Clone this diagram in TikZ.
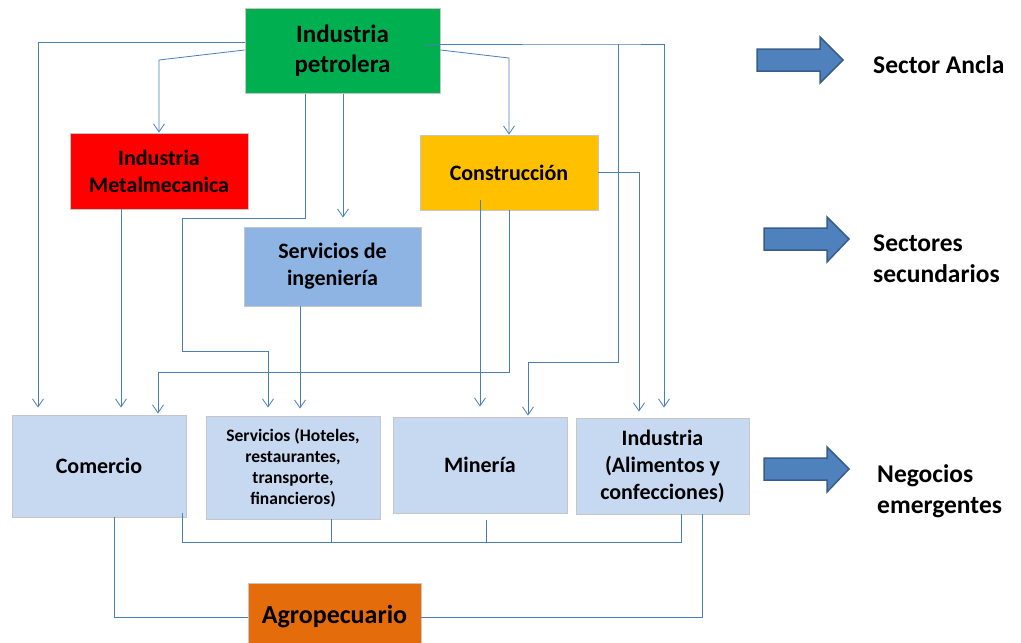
\documentclass[tikz,border=0pt]{standalone}
\usepackage{fontspec}
\setmainfont{Carlito}
\usetikzlibrary{arrows.meta,calc}
\definecolor{petrogreen}{HTML}{00B050}
\definecolor{metalred}{HTML}{FF0000}
\definecolor{construyellow}{HTML}{FFC000}
\definecolor{ingenblue}{HTML}{8EB4E3}
\definecolor{paleblue}{HTML}{C6D9F1}
\definecolor{agroorange}{HTML}{E46C0A}
\definecolor{linkblue}{HTML}{4A7EBB}
\definecolor{arrowfill}{HTML}{4F81BD}
\definecolor{arrowedge}{HTML}{385D8A}

\begin{document}
\begin{tikzpicture}[x=1pt,y=-1pt,
    sector/.style={draw=gray!45,line width=0.9pt,inner sep=0pt,align=center,font=\bfseries\fontsize{22}{27}\selectfont},
    link/.style={linkblue,line width=0.8pt},
    arr/.style={link,-{Straight Barb[length=8pt,width=11pt]}},
    bigarrow/.style={fill=arrowfill,draw=arrowedge,line width=1.5pt},
    legend/.style={inner sep=0pt,anchor=west,align=left,font=\bfseries\fontsize{25.5}{31}\selectfont}]
                \useasboundingbox (0,0) rectangle (1021,643);
                \node[sector,fill=petrogreen,minimum width=195pt,minimum height=85pt,font=\bfseries\fontsize{25}{30}\selectfont] (petro) at (342.5,51) {Industria\\petrolera};
                \node[sector,fill=metalred,minimum width=178pt,minimum height=76pt] (metal) at (159,171) {Industria\\Metalmecanica};
                \node[sector,fill=construyellow,minimum width=178pt,minimum height=75pt] (constr) at (509,172.5) {Construcción};
                \node[sector,fill=ingenblue,minimum width=177pt,minimum height=79pt] (ingen) at (332.5,266.5) {Servicios de\\ingeniería};
                \node[sector,fill=paleblue,minimum width=174pt,minimum height=102pt] (comer) at (99,466) {Comercio};
                \node[sector,fill=paleblue,minimum width=174pt,minimum height=103pt,font=\bfseries\fontsize{17.5}{21}\selectfont] (servi) at (293,467.5) {Servicios (Hoteles,\\restaurantes,\\transporte,\\financieros)};
                \node[sector,fill=paleblue,minimum width=174pt,minimum height=96pt] (miner) at (480,465) {Minería};
                \node[sector,fill=paleblue,minimum width=173pt,minimum height=96pt] (indus) at (662.5,466) {Industria\\(Alimentos y\\confecciones)};
                \node[sector,fill=agroorange,minimum width=173pt,minimum height=68pt,font=\bfseries\fontsize{26}{31}\selectfont] (agro) at (334.5,617) {Agropecuario};

                \draw[arr,shorten >=7pt] (petro.west |- 0,42) -| ([xshift=-61pt]comer.north);
                \draw[arr] (petro.west |- 0,50) -- (metal.north |- 0,60) -- (metal.north);
                \draw[arr] (petro.east |- 0,50) -- (constr.north |- 0,58) -- (constr.north);
                \draw[arr,shorten >=9pt] (petro.south -| 343,0) -- (ingen.north -| 343,0);
                \draw[arr,shorten >=8pt] (petro.south -| 305,0) |- (182,218) |- (268,351) -- (servi.north -| 268,0);
                \draw[arr,shorten >=10pt] ($(petro.east |- 0,44)+(-15,0)$) -- (618,44) coordinate (split) -| (indus.north -| 664,0);
                \draw[arr,shorten >=1pt] (split) |- (528,362) -- (miner.north -| 528,0);

                \draw[arr,shorten >=7pt] (metal.south -| 121,0) -- (comer.north -| 121,0);
                \draw[arr,shorten >=7pt] (ingen.south -| 300,0) -- (servi.north -| 300,0);
                \draw[arr,shorten >=10pt] ($(constr.south -| miner.north)+(0,-10)$) -- (miner.north);
                \draw[arr,shorten >=1pt] (constr.south) |- (158,372) -- (comer.north -| 158,0);
                \draw[arr,shorten >=6pt] (constr.east) -| ([xshift=-23.5pt]indus.north);

                \draw[link] ($(comer.south east)+(-4,-4)$) |- (681,542) -- (indus.south -| 681,0);
                \draw[link] (servi.south -| 331,0) -- (331,542);
                \draw[link] ($(miner.south -| 486,0)+(0,7)$) -- (486,542);
                \draw[link] (comer.south -| 114,0) |- (agro.west);
                \draw[link] (indus.south -| 702,0) |- (agro.east);

                \draw[bigarrow] (757,49) -- (820,49) -- (820,37) -- (843,60) -- (820,83) -- (820,71) -- (757,71) -- cycle;
                \draw[bigarrow] (764,228) -- (827,228) -- (827,217) -- (849,239) -- (827,262) -- (827,250) -- (764,250) -- cycle;
                \draw[bigarrow] (764,458) -- (827,458) -- (827,447) -- (849,469) -- (827,492) -- (827,480) -- (764,480) -- cycle;
                \node[legend] (ancla) at (873,65) {Sector Ancla};
                \node[legend] (secun) at (873,259) {Sectores\\secundarios};
                \node[legend] (emerg) at (877,491) {Negocios\\emergentes};
              \end{tikzpicture}
\end{document}
